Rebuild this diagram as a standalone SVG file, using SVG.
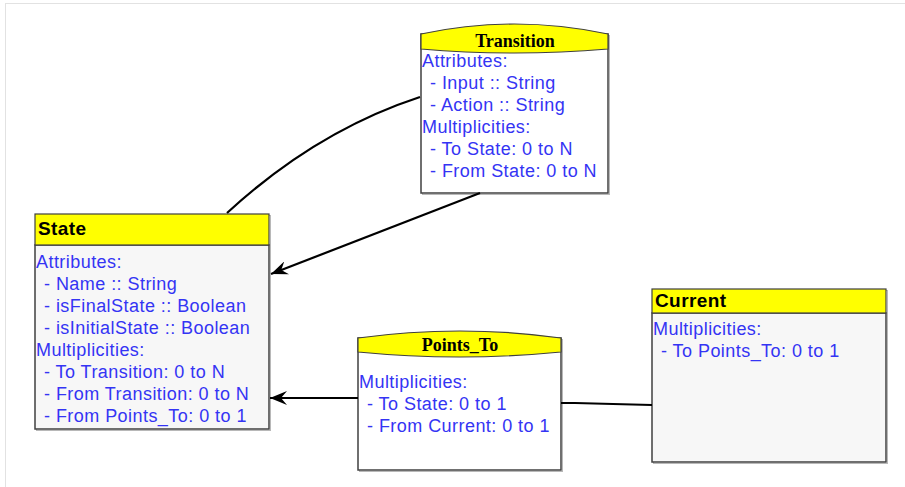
<svg xmlns="http://www.w3.org/2000/svg" width="905" height="487" viewBox="0 0 905 487">
  <style>
    .frame { fill: none; stroke: #e2e2e2; stroke-width: 1; }
    .box { stroke: #404040; stroke-width: 1.5; }
    .shade { fill: none; stroke: #b8b8b8; stroke-width: 1; }
    .hdr { fill: #ffff00; stroke: #404040; stroke-width: 1.2; }
    .body-grey { fill: #f7f7f7; }
    .body-white { fill: #ffffff; }
    .cls { font-family: "Liberation Sans", Arial, sans-serif; font-weight: bold; font-size: 19px; letter-spacing: 0.4px; fill: #000; }
    .rel { font-family: "Liberation Serif", "Times New Roman", serif; font-weight: bold; font-size: 18px; fill: #000; text-anchor: middle; }
    .txt { font-family: "Liberation Sans", Arial, sans-serif; font-size: 18px; letter-spacing: 0.45px; fill: #3434f4; }
    .edge { fill: none; stroke: #000; stroke-width: 2.2; }
  </style>
  <defs>
    <marker id="arrow" viewBox="0 0 17 14" refX="17" refY="7" markerWidth="17" markerHeight="14" markerUnits="userSpaceOnUse" orient="auto">
      <path d="M17,7 L0,0 L6,7 L0,14 Z" fill="#000"/>
    </marker>
  </defs>

  <rect x="0" y="0" width="905" height="487" fill="#ffffff"/>
  <rect class="frame" x="5.5" y="3.5" width="920" height="500"/>

  <!-- State class -->
  <g id="state">
    <rect class="shade" x="36.5" y="215.5" width="234" height="215"/>
    <rect class="box body-grey" x="35" y="245" width="234" height="184"/>
    <rect class="hdr" x="35" y="214" width="234" height="31"/>
    <text class="cls" x="38" y="235">State</text>
    <text class="txt" x="36" y="268">Attributes:</text>
    <text class="txt" x="44" y="290">- Name :: String</text>
    <text class="txt" x="44" y="312">- isFinalState :: Boolean</text>
    <text class="txt" x="44" y="334">- isInitialState :: Boolean</text>
    <text class="txt" x="36" y="356">Multiplicities:</text>
    <text class="txt" x="44" y="378">- To Transition: 0 to N</text>
    <text class="txt" x="44" y="400">- From Transition: 0 to N</text>
    <text class="txt" x="44" y="422">- From Points_To: 0 to 1</text>
  </g>

  <!-- Transition association -->
  <g id="transition">
    <rect class="shade" x="422.5" y="35.5" width="187" height="159"/>
    <rect class="box body-white" x="421" y="34" width="187" height="159"/>
    <path class="hdr" d="M421,34 Q514,14 608,34 L608,49 Q514,57 421,49 Z"/>
    <text class="rel" x="515" y="47">Transition</text>
    <text class="txt" x="422" y="67">Attributes:</text>
    <text class="txt" x="430" y="89">- Input :: String</text>
    <text class="txt" x="430" y="111">- Action :: String</text>
    <text class="txt" x="422" y="133">Multiplicities:</text>
    <text class="txt" x="430" y="155">- To State: 0 to N</text>
    <text class="txt" x="430" y="177">- From State: 0 to N</text>
  </g>

  <!-- Points_To association -->
  <g id="points_to">
    <rect class="shade" x="359.5" y="339.5" width="203" height="132"/>
    <rect class="box body-white" x="358" y="338" width="203" height="132"/>
    <path class="hdr" d="M358,338 Q460,324 561,338 L561,352 Q460,362 358,352 Z"/>
    <text class="rel" x="460" y="351">Points_To</text>
    <text class="txt" x="359" y="388">Multiplicities:</text>
    <text class="txt" x="367" y="410">- To State: 0 to 1</text>
    <text class="txt" x="367" y="432">- From Current: 0 to 1</text>
  </g>

  <!-- Current class -->
  <g id="current">
    <rect class="shade" x="653.5" y="290.5" width="234" height="173"/>
    <rect class="box body-grey" x="652" y="313" width="234" height="149"/>
    <rect class="hdr" x="652" y="289" width="234" height="24"/>
    <text class="cls" x="655" y="307">Current</text>
    <text class="txt" x="653" y="335">Multiplicities:</text>
    <text class="txt" x="661" y="357">- To Points_To: 0 to 1</text>
  </g>

  <!-- connectors -->
  <g id="edges">
    <path class="edge" d="M227,213 Q316,131 420,97"/>
    <path class="edge" d="M480,193 Q410,220 271,274" marker-end="url(#arrow)"/>
    <path class="edge" d="M358,398 L270,398" marker-end="url(#arrow)"/>
    <path class="edge" d="M561,403 L575,403 L613,404 L652,405"/>
  </g>
</svg>
